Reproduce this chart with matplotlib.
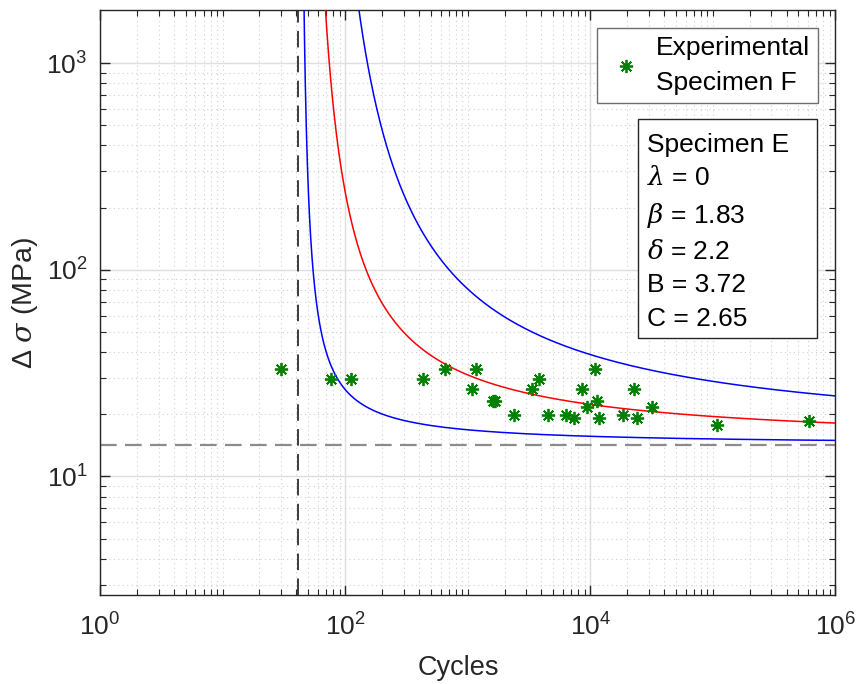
import numpy as np
import matplotlib
matplotlib.use("Agg")
from matplotlib import pyplot as plt
from matplotlib.patches import Rectangle
from matplotlib.ticker import FixedLocator, FuncFormatter, NullFormatter

plt.rcParams['font.family'] = ['Liberation Sans', 'DejaVu Sans']
plt.rcParams['mathtext.fontset'] = 'custom'
plt.rcParams['mathtext.rm'] = 'Liberation Sans'
plt.rcParams['mathtext.it'] = 'DejaVu Serif:italic'

# experimental points (cycles, stress range in MPa)
cycles = [30, 77, 112, 435, 653, 1170, 1080, 1620, 1670, 2390, 3330, 3820, 4500,
          6350, 7420, 8530, 9360, 10940, 11300, 11730, 18620, 22900, 23980,
          32100, 108900, 613700]
stress = [33.0, 29.6, 29.6, 29.6, 33.0, 33.0, 26.4, 23.1, 23.1, 19.8, 26.4, 29.6, 19.8,
          19.8, 19.1, 26.4, 21.7, 33.0, 23.1, 19.1, 19.8, 26.4, 19.1,
          21.7, 17.8, 18.5]

# model parameters (shown in the box)
lam, beta, delta, B, C = 0, 1.83, 2.2, 3.72, 2.65
# level of (lnN - B)(lnS - C) for each curve
curve_levels = [0.55, 2.50, 5.55]
curve_colors = ['#0000ff', '#ff0000', '#0000ff']

fig = plt.figure(figsize=(8.58, 6.84), dpi=100)
ax = fig.add_axes([0.1166, 0.1301, 0.857, 0.8548])

N = np.logspace(np.log10(np.exp(B)) + 1e-5, 6, 2000)
for k, col in zip(curve_levels, curve_colors):
    S = np.exp(C + k / (np.log(N) - B))
    ax.plot(N, S, color=col, lw=1.1, zorder=3)

ax.axvline(np.exp(B), color='#3c3c3c', lw=1.4, ls=(0, (8.5, 4.3)), zorder=2)
ax.axhline(np.exp(C), color='#8c8c8c', lw=1.6, ls=(0, (7.5, 3.75)), zorder=2)

ax.plot(cycles, stress, ls='none', marker=(8, 2, 0), ms=9.5, mew=1.3,
        color='#008000', label='Experimental\nSpecimen F', zorder=4)

ax.set_xscale('log')
ax.set_yscale('log')
ax.set_xlim(1, 1e6)
ax.set_ylim(2.67, 1800)

ax.xaxis.set_major_locator(FixedLocator([1, 1e2, 1e4, 1e6]))
xminor = [m * 10.0 ** e for e in range(6) for m in range(2, 11) if m * 10.0 ** e not in (1e2, 1e4, 1e6)]
ax.xaxis.set_minor_locator(FixedLocator(xminor))
ax.yaxis.set_major_locator(FixedLocator([1e1, 1e2, 1e3]))
yminor = [m * 10.0 ** e for e in range(0, 4) for m in range(2, 10)]
ax.yaxis.set_minor_locator(FixedLocator(yminor))

fmt = FuncFormatter(lambda v, p: r'$\mathregular{10^{%d}}$' % round(np.log10(v)))
ax.xaxis.set_major_formatter(fmt)
ax.yaxis.set_major_formatter(fmt)
ax.xaxis.set_minor_formatter(NullFormatter())
ax.yaxis.set_minor_formatter(NullFormatter())

ax.tick_params(which='both', direction='in', top=True, right=True,
               colors='#262626', labelcolor='#262626', labelsize=19)
ax.tick_params(which='major', length=7, width=1)
ax.tick_params(which='minor', length=4, width=0.8)
ax.tick_params(axis='x', pad=13)
ax.tick_params(axis='y', pad=9)
for s in ax.spines.values():
    s.set_color('#262626')
    s.set_linewidth(1)

ax.grid(True, which='major', color='#dedede', lw=1, ls='-')
ax.grid(True, which='minor', color='#d0d0d0', lw=0.8, ls=(0, (1, 3)))
ax.set_axisbelow(True)

ax.set_xlabel('Cycles', fontsize=19.5, color='#262626')
ax.xaxis.set_label_coords(0.4877, -0.102)
ax.set_ylabel(r'Δ $\sigma$ (MPa)', fontsize=20.5, color='#262626')
ax.yaxis.set_label_coords(-0.082, 0.5)

leg = ax.legend(loc='upper right', bbox_to_anchor=(0.9765, 0.9697), borderaxespad=0,
                fontsize=19, frameon=True, fancybox=False, edgecolor='#6e6e6e',
                framealpha=1, borderpad=0.3, handlelength=1.6, handletextpad=0.35)
leg.get_frame().set_linewidth(1)
leg.get_texts()[0].set_linespacing(1.6)

# parameter box
ax.add_patch(Rectangle((0.7321, 0.4390), 0.2426, 0.3746, transform=ax.transAxes,
                       fc='white', ec='#262626', lw=1, zorder=5))
info = 'Specimen E\n$\\lambda$ = 0\n$\\beta$ = 1.83\n$\\delta$ = 2.2\nB = 3.72\nC = 2.65'
ax.text(0.744, 0.7902, info, transform=ax.transAxes, fontsize=19, va='top', ha='left',
        linespacing=1.5, color='black', zorder=6)

fig.savefig('out.png', dpi=100)
